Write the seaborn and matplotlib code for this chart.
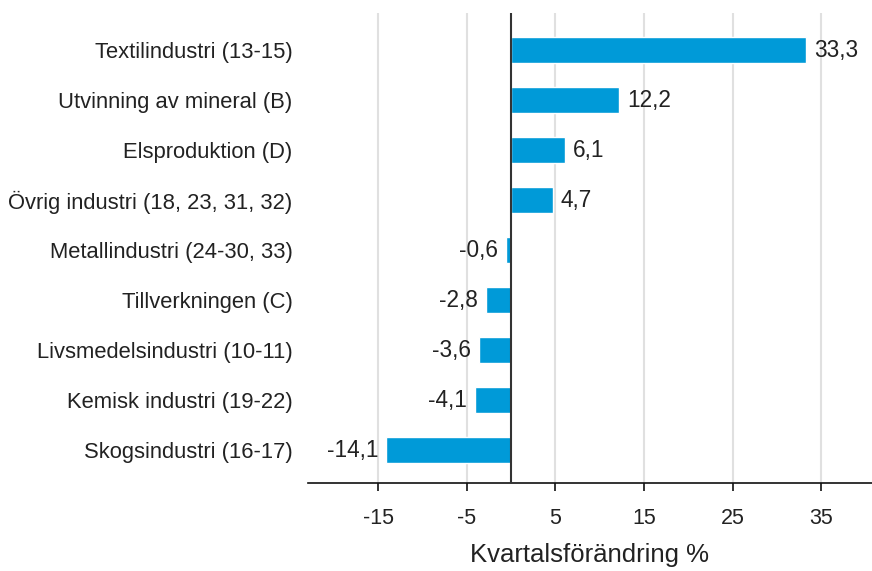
import matplotlib
matplotlib.use("Agg")
import matplotlib.pyplot as plt
import seaborn as sns
import pandas as pd

categories = [
    "Textilindustri (13-15)",
    "Utvinning av mineral (B)",
    "Elsproduktion (D)",
    "Övrig industri (18, 23, 31, 32)",
    "Metallindustri (24-30, 33)",
    "Tillverkningen (C)",
    "Livsmedelsindustri (10-11)",
    "Kemisk industri (19-22)",
    "Skogsindustri (16-17)",
]
values = [33.3, 12.2, 6.1, 4.7, -0.6, -2.8, -3.6, -4.1, -14.1]
xticks = [-15, -5, 5, 15, 25, 35]
xlabel = "Kvartalsförändring %"

sns.set_theme(style="white")
plt.rcParams["font.family"] = ["Liberation Sans", "DejaVu Sans"]
plt.rcParams["axes.unicode_minus"] = False

df = pd.DataFrame({"cat": categories, "val": values})

fig = plt.figure(figsize=(8.72, 5.71), dpi=100)
ax = fig.add_axes([0.3532, 0.1541, 0.6468, 0.8231])

sns.barplot(data=df, x="val", y="cat", orient="h", color="#009AD8",
            saturation=1, width=0.52, ax=ax, zorder=3)

ax.set_xlim(-22.9, 40.7)
ax.set_ylim(8.66, -0.74)
ax.set_xticks(xticks)
ax.set_xticklabels([str(t) for t in xticks])
for t in xticks:
    ax.axvline(t, color="#e0e0e0", lw=1.5, zorder=0)
ax.axvline(0, color="#333333", lw=1.5, zorder=4)

for i, v in enumerate(values):
    txt = f"{v:.1f}".replace(".", ",")
    if v >= 0:
        ax.text(v + 0.9, i, txt, va="center", ha="left", fontsize=16.3, color="#222222")
    else:
        ax.text(v - 0.9, i, txt, va="center", ha="right", fontsize=16.3, color="#222222")

for s in ["top", "right", "left"]:
    ax.spines[s].set_visible(False)
ax.spines["bottom"].set_color("#111111")
ax.spines["bottom"].set_linewidth(1.2)
ax.grid(False)

ax.tick_params(axis="x", which="both", bottom=True, length=6, width=1.2,
               color="#111111", labelsize=15.5, labelcolor="#222222", pad=12)
ax.tick_params(axis="y", left=False, labelsize=15.8, labelcolor="#222222", pad=5)
ax.set_ylabel("")
ax.set_xlabel(xlabel, fontsize=18.5, color="#222222", labelpad=10)

fig.savefig("out.png", dpi=100)
